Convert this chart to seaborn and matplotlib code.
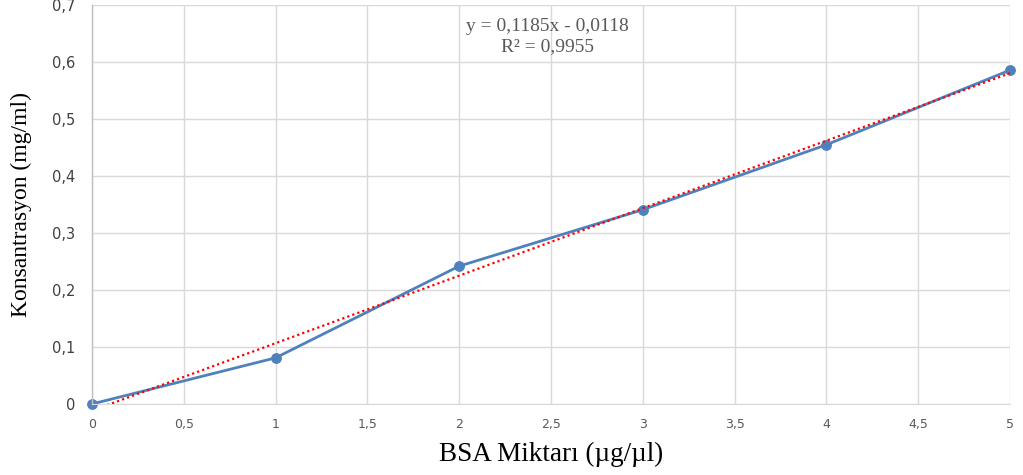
import numpy as np
import pandas as pd
import seaborn as sns
import matplotlib.pyplot as plt
from matplotlib.ticker import FuncFormatter, MultipleLocator

bsa = [0, 1, 2, 3, 4, 5]
konsantrasyon = [0.0, 0.081, 0.242, 0.341, 0.455, 0.586]
slope = 0.1185
intercept = -0.0118
equation = "y = 0,1185x - 0,0118"
r2_text = "R² = 0,9955"

df = pd.DataFrame({"bsa": bsa, "kons": konsantrasyon})

sns.set_style("whitegrid")
plt.rcParams['font.family'] = ['DejaVu Sans']

fig = plt.figure(figsize=(10.23, 4.75), dpi=100)
ax = fig.add_axes([0.0899, 0.1495, 0.8973, 0.8395])

# trend line
xs = np.array([0, 5])
ax.plot(xs, slope * xs + intercept, color="red", linestyle=(0, (1, 1.4)), lw=1.6, zorder=3)

sns.lineplot(data=df, x="bsa", y="kons", ax=ax, color="#4F81BD", lw=2,
             marker="o", markersize=7, markeredgecolor="#4F81BD", zorder=2,
             clip_on=False)

ax.set_xlim(0, 5)
ax.set_ylim(0, 0.7)
ax.xaxis.set_major_locator(MultipleLocator(0.5))
ax.yaxis.set_major_locator(MultipleLocator(0.1))

comma = FuncFormatter(lambda v, p: ("%g" % round(v, 2)).replace(".", ","))
ax.xaxis.set_major_formatter(comma)
ax.yaxis.set_major_formatter(comma)

ax.grid(True, color="#D9D9D9", lw=1)
for s in ["top", "right"]:
    ax.spines[s].set_visible(False)
ax.spines["left"].set_color("#BFBFBF")
ax.spines["bottom"].set_color("#D9D9D9")
ax.spines["left"].set_linewidth(1)

ax.tick_params(axis="x", labelsize=9, colors="#595959", length=0, pad=10)
ax.tick_params(axis="y", labelsize=10.5, colors="#404040", length=0, pad=12)

serif = ["Liberation Serif", "DejaVu Serif"]
ax.set_xlabel("BSA Miktarı (µg/µl)", family=serif, fontsize=19.5, color="black", labelpad=8)
ax.set_ylabel("Konsantrasyon (mg/ml)", family=serif, fontsize=17, color="black", labelpad=14)

ax.text(2.48, 0.663, equation, family=serif, fontsize=14, color="#595959", ha="center", va="center")
ax.text(2.48, 0.628, r2_text, family=serif, fontsize=14, color="#595959", ha="center", va="center")

fig.savefig("out.png", dpi=100)
